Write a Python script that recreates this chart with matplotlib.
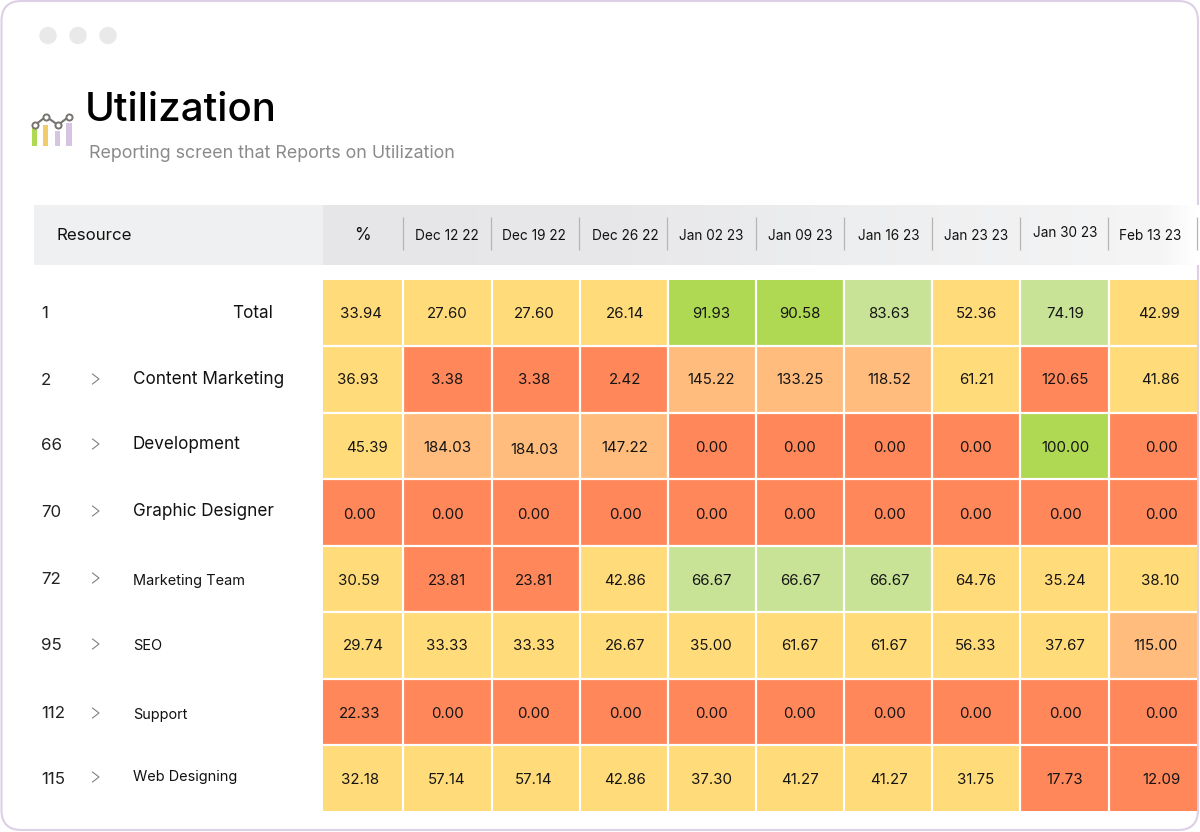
import matplotlib
matplotlib.use("Agg")
import matplotlib.pyplot as plt
import numpy as np
from matplotlib.colors import ListedColormap, LinearSegmentedColormap
from matplotlib.patches import FancyBboxPatch, Circle, Rectangle

plt.rcParams['font.family'] = ['Inter', 'DejaVu Sans']

title = "Utilization"
subtitle = "Reporting screen that Reports on Utilization"
columns = ["%", "Dec 12 22", "Dec 19 22", "Dec 26 22", "Jan 02 23", "Jan 09 23",
           "Jan 16 23", "Jan 23 23", "Jan 30 23", "Feb 13 23"]
row_ids = ["1", "2", "66", "70", "72", "95", "112", "115"]
row_names = ["Total", "Content Marketing", "Development", "Graphic Designer",
             "Marketing Team", "SEO", "Support", "Web Designing"]
values = [
    ["33.94", "27.60", "27.60", "26.14", "91.93", "90.58", "83.63", "52.36", "74.19", "42.99"],
    ["36.93", "3.38", "3.38", "2.42", "145.22", "133.25", "118.52", "61.21", "120.65", "41.86"],
    ["45.39", "184.03", "184.03", "147.22", "0.00", "0.00", "0.00", "0.00", "100.00", "0.00"],
    ["0.00", "0.00", "0.00", "0.00", "0.00", "0.00", "0.00", "0.00", "0.00", "0.00"],
    ["30.59", "23.81", "23.81", "42.86", "66.67", "66.67", "66.67", "64.76", "35.24", "38.10"],
    ["29.74", "33.33", "33.33", "26.67", "35.00", "61.67", "61.67", "56.33", "37.67", "115.00"],
    ["22.33", "0.00", "0.00", "0.00", "0.00", "0.00", "0.00", "0.00", "0.00", "0.00"],
    ["32.18", "57.14", "57.14", "42.86", "37.30", "41.27", "41.27", "31.75", "17.73", "12.09"],
]
# 0 red, 1 yellow, 2 peach, 3 light green, 4 green
levels = [
    [1, 1, 1, 1, 4, 4, 3, 1, 3, 1],
    [1, 0, 0, 0, 2, 2, 2, 1, 0, 1],
    [1, 2, 2, 2, 0, 0, 0, 0, 4, 0],
    [0, 0, 0, 0, 0, 0, 0, 0, 0, 0],
    [1, 0, 0, 1, 3, 3, 3, 1, 1, 1],
    [1, 1, 1, 1, 1, 1, 1, 1, 1, 2],
    [0, 0, 0, 0, 0, 0, 0, 0, 0, 0],
    [1, 1, 1, 1, 1, 1, 1, 1, 0, 0],
]
level_colors = ["#FF875A", "#FFDB79", "#FFBC7D", "#C8E296", "#AFD853"]

# ---- layout (pixels) ----
x_edges = [323, 403, 491.5, 579.5, 667.5, 756, 844, 932, 1020, 1108.5, 1197]
y_edges = [280, 346, 412.5, 479, 545.5, 612, 679, 745, 811]
col_x = [[361, 358, 367, 360, 359, 363, 360, 360],
         [447] * 8, [534] * 8, [625] * 8, [711] * 8, [800] * 8, [889] * 8, [976] * 8, [1065] * 8,
         [1159, 1160, 1162, 1162, 1160, 1156, 1162, 1161]]
row_y = [314, 380, 448, 515, 581, 646.5, 714, 780]
name_x = [232, 133, 133, 133, 133, 133, 133, 133]
name_y = [313.5, 379.5, 444.5, 511.5, 580.5, 645.5, 714.5, 777.5]
name_fs = [12.3, 12.4, 12.3, 12.3, 10.45, 10.45, 10.4, 10.45]
id_y = [313.5, 380.5, 445.5, 512.5, 579.5, 645.5, 713.5, 779.5]
chev_y = [379, 444, 511, 578, 644, 713, 777]

fig = plt.figure(figsize=(12, 8.32), dpi=100)
ax = fig.add_axes([0, 0, 1, 1])
ax.axis("off")

# window frame
ax.add_patch(FancyBboxPatch((1.5, 1), 1196.5, 829, boxstyle="round,pad=0,rounding_size=20",
                            fc="white", ec="#DCCFE6", lw=1.5, zorder=0))
for cx in (48, 78, 108):
    ax.add_patch(Circle((cx, 35.5), 8.7, fc="#E9E9EA", ec="none", zorder=1))

# icon
for x0, x1, top, c in [(32, 37, 128, "#AFD853"), (43, 48, 125, "#F2CB6B"),
                       (55, 60, 131, "#D5C5E2"), (66, 72, 123, "#D5C5E2")]:
    ax.add_patch(Rectangle((x0, top), x1 - x0, 146 - top, fc=c, ec="none", zorder=2))
ax.plot([35, 46, 58, 69], [125, 116.5, 125, 116.5], "-o", color="#77736F", lw=1.5, ms=4.4,
        mfc="white", mec="#77736F", mew=1.4, zorder=3)

# titles
ax.text(85, 110.5, title, fontsize=29, fontweight="medium", color="black", ha="left", va="center")
ax.text(89, 153.5, subtitle, fontsize=12.85, color="#8A8A8A", ha="left", va="center")

# header band
ax.add_patch(Rectangle((34, 205), 289, 60, fc="#EFF0F1", ec="none", zorder=1))
header_cmap = LinearSegmentedColormap.from_list(
    "hdr", [(0, "#E6E6E8"), (0.35, "#E8E8EA"), (0.6, "#EDEEEF"), (0.96, "#F5F5F6"), (1, "#FFFFFF")])
ax.imshow(np.linspace(0, 1, 256)[None, :], extent=(323, 1200, 265, 205),
          aspect="auto", cmap=header_cmap, interpolation="bilinear", zorder=1, vmin=0, vmax=1)
ax.text(56, 235.5, "Resource", fontsize=12.2, color="#111111", ha="left", va="center", zorder=4)
head_x = [362.5, 447, 534, 625, 711, 800, 889, 976, 1065, 1150]
head_y = [235.5, 236, 236, 236, 236, 236, 236, 236, 233, 236]
for label, hx, hy in zip(columns, head_x, head_y):
    ax.text(hx, hy, label, fontsize=12.3 if label == "%" else 9.8, color="#111111",
            ha="center", va="center", zorder=4)
ax.vlines(np.array(x_edges[1:]) - 0.5, 217, 250, color="#B5B5B5", lw=0.9, zorder=3)

# heat cells, white gaps drawn between them so the outer boundary stays exact
ax.pcolormesh(x_edges, y_edges, np.array(levels),
              cmap=ListedColormap(level_colors), vmin=-0.5, vmax=4.5, zorder=2)
ax.vlines(x_edges[1:-1], y_edges[0], y_edges[-1], color="white", lw=1.6, zorder=2.5)
ax.hlines(y_edges[1:-1], x_edges[0], x_edges[-1], color="white", lw=1.6, zorder=2.5)

for r, row in enumerate(values):
    for c, v in enumerate(row):
        yy = row_y[r] + (2 if (r, c) == (2, 2) else 0)
        ax.text(col_x[c][r], yy, v, fontsize=10.8, color="#141414",
                ha="center", va="center", zorder=4)

# row labels
for r, (rid, name) in enumerate(zip(row_ids, row_names)):
    ax.text(41, id_y[r], rid, fontsize=12.2, color="#222222", ha="left", va="center")
    ax.text(name_x[r], name_y[r], name, fontsize=name_fs[r], color="#111111", ha="left", va="center")
for cy in chev_y:
    ax.plot([92.5, 99, 92.5], [cy - 5, cy, cy + 5], color="#808080", lw=0.8, zorder=3)

ax.set_xlim(0, 1200)
ax.set_ylim(832, 0)
fig.savefig("out.png", dpi=100, facecolor="white")
